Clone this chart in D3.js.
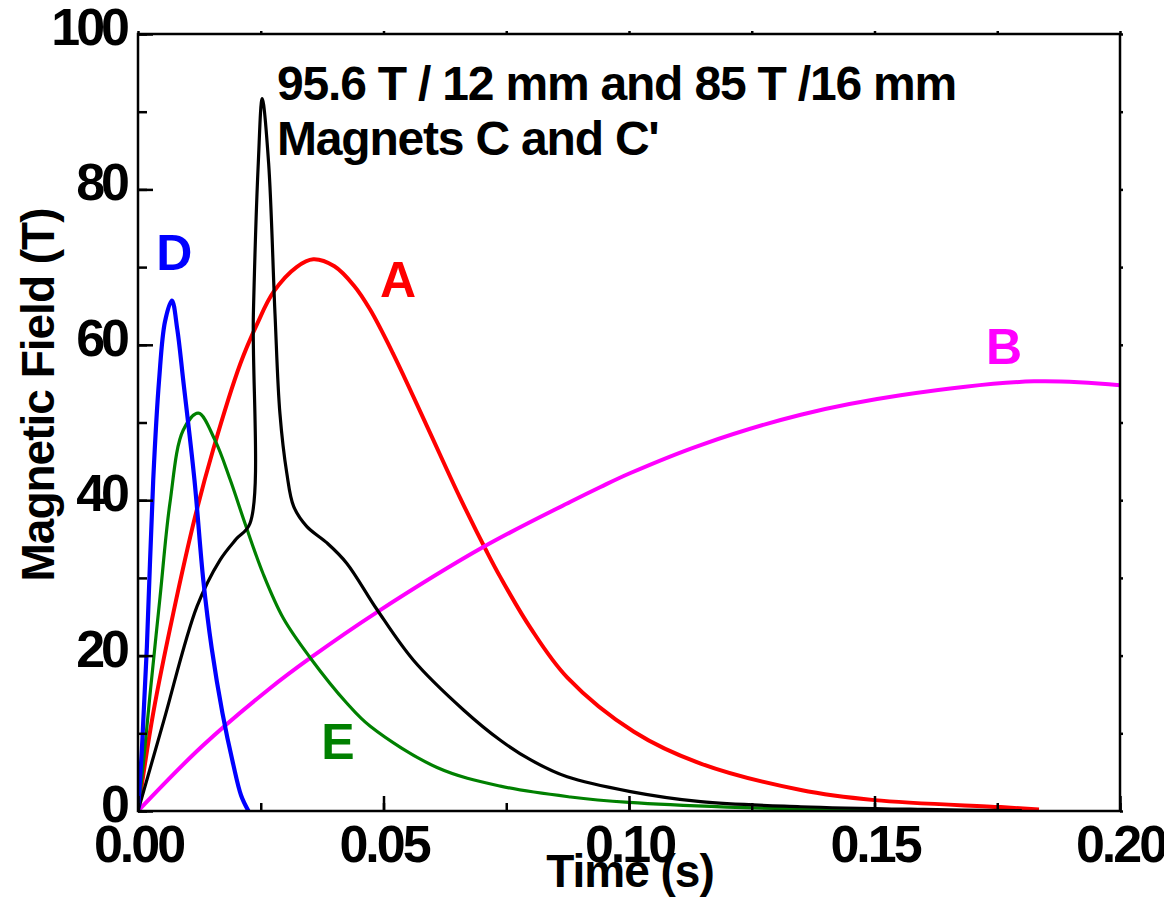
<!DOCTYPE html>
<html><head><meta charset="utf-8">
<script src="https://cdn.jsdelivr.net/npm/d3@7"></script>
<style>body{margin:0;background:#fff}svg{display:block}text{font-family:"Liberation Sans",Arial,sans-serif;font-weight:bold}</style>
</head><body>
<svg id="c" width="1164" height="922"></svg>
<script>
// ---- data (time in s, field in T) ----
const tA = [0,0.0031,0.0072,0.0116,0.0153,0.0208,0.0242,0.0276,0.0323,0.0357,0.040,0.044,0.0473,0.052,0.0588,0.0656,0.0711,0.0738,0.0799,0.0874,0.101,0.1146,0.135,0.150,0.1757,0.1835];
const bA = [0,12.6,25.5,37.8,46.5,57.5,62.6,66.8,70.0,71.0,70.1,67.6,64.5,58.8,49.6,40.3,33.3,30.1,23.6,17.2,10.2,6.1,2.7,1.4,0.5,0.2];
const tB = [0,0.013,0.0269,0.0351,0.0487,0.0704,0.0881,0.0942,0.1003,0.1146,0.135,0.1553,0.1825,0.2];
const bB = [0,8.3,15.8,19.7,25.6,34,39.8,41.7,43.5,47.1,51,53.5,55.3,54.8];
const tC = [0,0.0052,0.012,0.0167,0.0200,0.0228,0.0235,0.0245,0.0253,0.0266,0.0279,0.0289,0.0303,0.0317,0.0344,0.0385,0.0425,0.0487,0.0561,0.0663,0.0738,0.0799,0.0874,0.1003,0.1146,0.135,0.16,0.18];
const bC = [0,11.5,26.3,32.3,35,37,64,83.4,91.7,83.4,64,51.2,43.5,39.2,36.6,34.5,31.9,25.9,19.4,13,9.1,6.6,4.4,2.5,1.2,0.55,0.2,0.05];
const tD = [0,0.0008,0.0018,0.0031,0.0043,0.0055,0.0069,0.008,0.0092,0.0115,0.0133,0.015,0.0172,0.0194,0.021,0.0225];
const bD = [0,8,21,42.6,55.5,63,65.7,62,55.5,42.6,29.7,21,12.6,6,2,0];
const tE = [0,0.0011,0.0024,0.0045,0.0065,0.0092,0.0123,0.0157,0.0188,0.0218,0.0255,0.0296,0.0351,0.0425,0.0473,0.0609,0.0738,0.0881,0.1,0.12,0.14,0.165];
const bE = [0,6.2,14.7,27.6,39.6,49,51.2,47.7,42.6,37,30.5,24.8,19.7,13.9,10.9,5.6,3.2,1.8,1.1,0.5,0.2,0.05];
const xTicks = [0,0.05,0.10,0.15,0.20];
const xTickLabels = ["0.00","0.05","0.10","0.15","0.20"];
const yTicks = [0,20,40,60,80,100];
const titleLines = ["95.6 T / 12 mm and 85 T /16 mm","Magnets C and C'"];

const svg = d3.select("#c");
svg.append("rect").attr("width",1164).attr("height",922).attr("fill","#fff");
const L=138,R=1120,T=34,B=811;
const x = d3.scaleLinear().domain([0,0.2]).range([L,R]);
const y = d3.scaleLinear().domain([0,100]).range([B,T]);

svg.append("defs").append("clipPath").attr("id","clip").append("rect")
  .attr("x",L).attr("y",T-2).attr("width",R-L).attr("height",B-T+2);

const series = [
  {t:tA,b:bA,color:"#ff0000",w:4},
  {t:tB,b:bB,color:"#ff00ff",w:4},
  {t:tE,b:bE,color:"#008000",w:3.2},
  {t:tC,b:bC,color:"#000000",w:3.2},
  {t:tD,b:bD,color:"#0000ff",w:4.2}
];
const line = d3.line().x(d=>x(d[0])).y(d=>y(d[1])).curve(d3.curveCatmullRom.alpha(0.5));
const g = svg.append("g").attr("clip-path","url(#clip)");
series.forEach(s=>{
  g.append("path").datum(s.t.map((t,i)=>[t,s.b[i]]))
   .attr("d",line).attr("fill","none").attr("stroke",s.color)
   .attr("stroke-width",s.w).attr("stroke-linejoin","round");
});

// minor ticks
const xMinor = d3.range(0,0.2001,0.025);
const yMinor = d3.range(0,100.1,10);
svg.append("g").attr("transform",`translate(0,${B})`)
  .call(d3.axisBottom(x).tickValues(xMinor).tickSize(-8).tickFormat(""))
  .call(a=>a.select(".domain").remove());
svg.append("g").attr("transform",`translate(${L},0)`)
  .call(d3.axisLeft(y).tickValues(yMinor).tickSize(-9).tickFormat(""))
  .call(a=>a.select(".domain").remove());
// top/right tiny ticks
svg.append("g").attr("transform",`translate(0,${T})`)
  .call(d3.axisTop(x).tickValues(xMinor).tickSize(3).tickFormat(""))
  .call(a=>a.select(".domain").remove());
svg.append("g").attr("transform",`translate(${R},0)`)
  .call(d3.axisRight(y).tickValues(yMinor).tickSize(3).tickFormat(""))
  .call(a=>a.select(".domain").remove());

// major axes
const xa = svg.append("g").attr("transform",`translate(0,${B})`)
  .call(d3.axisBottom(x).tickValues(xTicks).tickSize(-15).tickPadding(14)
        .tickFormat((d,i)=>xTickLabels[i]));
xa.select(".domain").remove();
xa.selectAll("text").attr("font-size",52).attr("fill","#000").attr("letter-spacing","-3px")
  .attr("font-family","'Liberation Sans',Arial,sans-serif").attr("font-weight","bold");
const ya = svg.append("g").attr("transform",`translate(${L},0)`)
  .call(d3.axisLeft(y).tickValues(yTicks).tickSize(-15).tickPadding(12));
ya.select(".domain").remove();
ya.selectAll("text").attr("font-size",52).attr("fill","#000").attr("letter-spacing","-4px").attr("dy","0.2em")
  .attr("font-family","'Liberation Sans',Arial,sans-serif").attr("font-weight","bold");
svg.selectAll(".tick line").attr("stroke","#000").attr("stroke-width",2.5);

// frame
svg.append("rect").attr("x",L).attr("y",T).attr("width",R-L).attr("height",B-T)
  .attr("fill","none").attr("stroke","#000").attr("stroke-width",2.5);

// axis titles
svg.append("text").attr("x",630).attr("y",887).attr("text-anchor","middle")
  .attr("font-size",46).attr("letter-spacing","-1px").text("Time (s)");
svg.append("text").attr("transform",`translate(54,395) rotate(-90)`).attr("text-anchor","middle")
  .attr("font-size",46).attr("letter-spacing","-1px").text("Magnetic Field (T)");

// title
titleLines.forEach((s,i)=>{
  svg.append("text").attr("x",277).attr("y",100+i*55).attr("font-size",48)
    .attr("letter-spacing","-1.2px").text(s);
});

// series labels
const lab = [
  {n:"D",x:0.0037,yv:69.6,c:"#0000ff"},
  {n:"A",x:0.0493,yv:66.1,c:"#ff0000"},
  {n:"B",x:0.1727,yv:57.5,c:"#ff00ff"},
  {n:"E",x:0.0373,yv:6.7,c:"#008000"}
];
lab.forEach(l=>{
  svg.append("text").attr("x",x(l.x)).attr("y",y(l.yv)).attr("font-size",50)
    .attr("fill",l.c).text(l.n);
});
</script>
</body></html>
